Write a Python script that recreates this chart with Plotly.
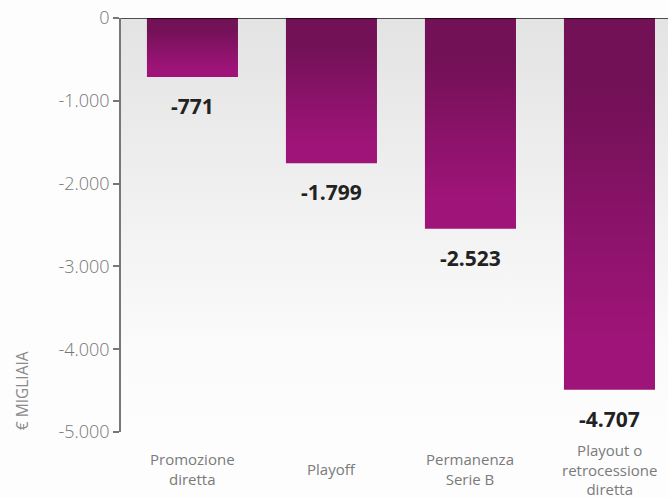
import plotly.graph_objects as go

# ---- data ----
categories = ["Promozione<br>diretta", "Playoff", "Permanenza<br>Serie B", "Playout o<br>retrocessione<br>diretta"]
bar_values = [-713, -1755, -2545, -4489]          # bar lengths as drawn (€ migliaia)
label_values = [-771, -1799, -2523, -4707]        # printed value labels (€ migliaia)
tick_values = [0, -1000, -2000, -3000, -4000, -5000]

def fmt(v):
    return f"{v:,}".replace(",", ".")

tick_text = [fmt(v) for v in tick_values]

FONT = "Open Sans"
DARK = "#731157"
MAG = "#9e1478"
BAR_W = 0.655
X_RANGE = [-0.514, 3.421]
Y_RANGE = [-5000, 0]
LABEL_GAP = 385   # distance of the value label below the bar end, in axis units

fig = go.Figure()

# plot background gradient
fig.add_trace(go.Scatter(
    x=[X_RANGE[0] - 1, X_RANGE[1] + 1, X_RANGE[1] + 1, X_RANGE[0] - 1, X_RANGE[0] - 1],
    y=[Y_RANGE[1], Y_RANGE[1], Y_RANGE[0], Y_RANGE[0], Y_RANGE[1]],
    mode="lines", line=dict(width=0), fill="toself",
    fillgradient=dict(type="vertical", start=Y_RANGE[0], stop=Y_RANGE[1],
                      colorscale=[[0, "#fdfdfd"], [0.2, "#fbfbfb"], [1, "#e3e3e3"]]),
    hoverinfo="skip", showlegend=False,
))

# bars with vertical gradient
for i, v in enumerate(bar_values):
    x0, x1 = i - BAR_W / 2, i + BAR_W / 2
    fig.add_trace(go.Scatter(
        x=[x0, x1, x1, x0, x0], y=[0, 0, v, v, 0],
        mode="lines", line=dict(width=0), fill="toself",
        fillgradient=dict(type="vertical", start=v, stop=0,
                          colorscale=[[0, MAG], [0.15, MAG], [0.8, DARK], [1, DARK]]),
        hoverinfo="skip", showlegend=False,
    ))

# value labels under the bars
fig.add_trace(go.Scatter(
    x=list(range(len(bar_values))), y=[v - LABEL_GAP for v in bar_values],
    mode="text", text=[f"<b>{fmt(l)}</b>" for l in label_values],
    textposition="middle center",
    textfont=dict(family=FONT, size=21, color="#222222"),
    hoverinfo="skip", showlegend=False, cliponaxis=False,
))

annotations = []
for i, c in enumerate(categories):
    annotations.append(dict(
        x=i, y=-0.090, xref="x", yref="paper", text=c, showarrow=False,
        yanchor="middle", xanchor="center",
        font=dict(family=FONT, size=15, color="#7a7a7a"),
    ))
annotations.append(dict(
    x=-0.181, y=0.101, xref="paper", yref="paper", text="€ MIGLIAIA", showarrow=False,
    textangle=-90, xanchor="center", yanchor="middle",
    font=dict(family=FONT, size=15.5, color="#8a8a8a"),
))

fig.update_layout(
    width=668, height=498,
    margin=dict(l=121, r=0, t=18, b=66),
    paper_bgcolor="#fdfdfd", plot_bgcolor="#fdfdfd",
    showlegend=False,
    xaxis=dict(range=X_RANGE, showgrid=False, zeroline=False, showticklabels=False,
               showline=False, ticks=""),
    yaxis=dict(range=Y_RANGE, tickvals=tick_values, ticktext=tick_text,
               showgrid=False, zeroline=False, showline=True, linecolor="#777777",
               linewidth=1.5, ticks="outside", ticklen=6, tickcolor="#777777", tickwidth=1.5,
               ticklabelstandoff=0,
               tickfont=dict(family=FONT, size=18, color="#777777", weight=300)),
    annotations=annotations,
    shapes=[dict(type="line", xref="paper", yref="y", x0=0, x1=1, y0=0, y1=0,
                 line=dict(color="rgba(0,0,0,0.65)", width=2), layer="above")],
)

fig.write_html("out.html", config={"displayModeBar": False},
               post_script="document.body.style.margin='0';")
